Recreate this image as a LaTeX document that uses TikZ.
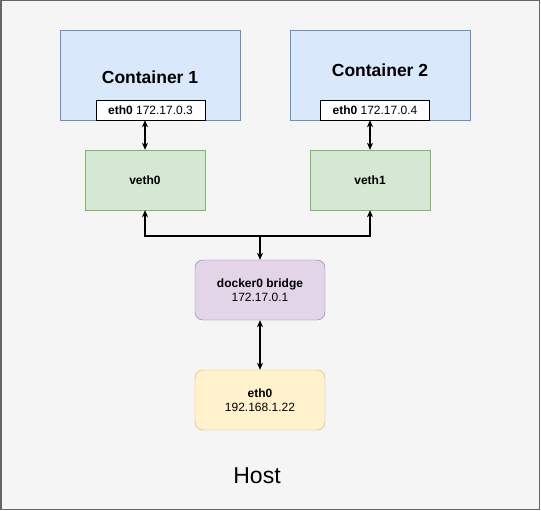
\documentclass[tikz,border=0pt]{standalone}
\usepackage{fontspec}
\setmainfont{Liberation Sans}
\usetikzlibrary{arrows.meta}

\definecolor{canvasbg}{HTML}{F5F5F5}
\definecolor{framegray}{HTML}{666666}
\definecolor{contfill}{HTML}{DAE8FC}
\definecolor{contline}{HTML}{6C8EBF}
\definecolor{vethfill}{HTML}{D5E8D4}
\definecolor{vethline}{HTML}{82B366}
\definecolor{brfill}{HTML}{E1D5E7}
\definecolor{brline}{HTML}{9673A6}
\definecolor{hostfill}{HTML}{FFF2CC}
\definecolor{hostline}{HTML}{D6B656}

\tikzset{
  boxfont/.style={font=\fontsize{12}{14.5}\selectfont},
  container/.style={draw=contline,fill=contfill,minimum width=180pt,minimum height=90pt,inner sep=0pt},
  iface/.style={draw,fill=white,minimum width=109pt,minimum height=20pt,inner sep=0pt,font=\fontsize{12}{14}\selectfont},
  vethbox/.style={boxfont,draw=vethline,fill=vethfill,minimum width=120pt,minimum height=60pt,inner sep=0pt},
  roundbox/.style={boxfont,draw,rounded corners=8pt,minimum width=130pt,minimum height=60pt,inner sep=0pt,align=center},
  link/.style={line width=1.1pt,>={Stealth[length=7pt,width=6pt,inset=2pt]}},
}

\begin{document}
\begin{tikzpicture}[x=1pt,y=-1pt]
    % Fondo y marco.
    \useasboundingbox (0,0) rectangle (541,511);
    \draw[framegray,fill=canvasbg,line width=1.5pt] (0.75,0.75) rectangle (539.5,509.5);

    % Contenedores con sus interfaces.
    \node[container] (cont1) at (150,75) {};
    \node[font=\fontsize{17.5}{20}\selectfont\bfseries] (cont1lbl) at (150,77) {Container 1};
    \node[iface] (ceth1) at (150.5,110) {\textbf{eth0} 172.17.0.3};

    \node[container] (cont2) at (380,75) {};
    \node[font=\fontsize{17.5}{20}\selectfont\bfseries] (cont2lbl) at (380,70) {Container 2};
    \node[iface] (ceth2) at (375,110) {\textbf{eth0} 172.17.0.4};

    % Pares veth.
    \node[vethbox] (veth0) at (145,180) {\textbf{veth0}};
    \node[vethbox] (veth1) at (370,180) {\textbf{veth1}};

    % Puente e interfaz del host.
    \node[roundbox,draw=brline,fill=brfill] (bridge) at (260,290)
        {\textbf{docker0 bridge}\\172.17.0.1};
    \node[roundbox,draw=hostline,fill=hostfill] (hosteth) at (260,400)
        {\textbf{eth0}\\192.168.1.22};
    \node[font=\fontsize{23}{27}\selectfont] (hostlbl) at (257,476) {Host};

    % Conexiones.
    \coordinate (split) at (260,236);
    \draw[link,<->] (veth0.north) -- (veth0.north |- ceth1.south);
    \draw[link,<->] (veth1.north) -- (veth1.north |- ceth2.south);
    \draw[link,->] (split) -| (veth0.south);
    \draw[link,->] (split) -| (veth1.south);
    \draw[link,->] (split) -- (bridge.north);
    \draw[link,<->] (bridge) -- (hosteth);
\end{tikzpicture}
\end{document}
